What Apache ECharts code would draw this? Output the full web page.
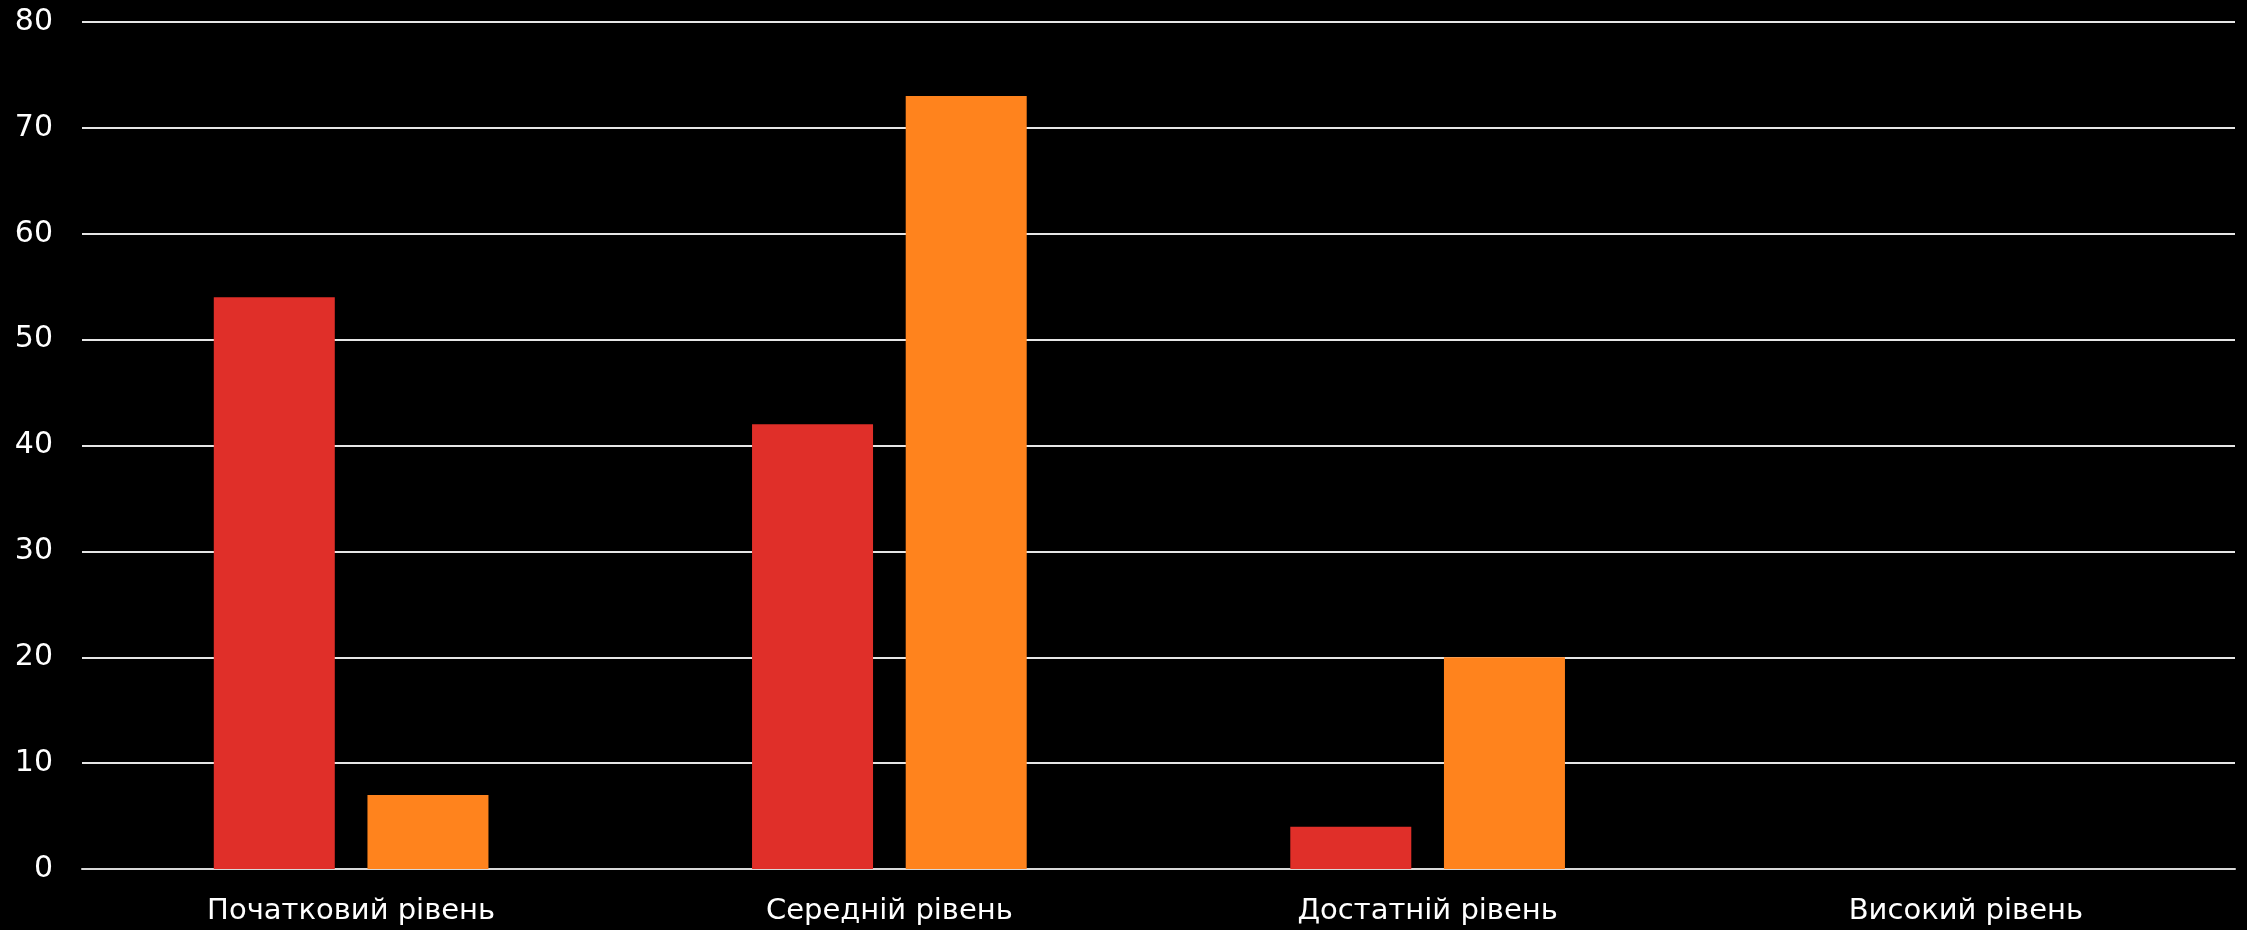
<!DOCTYPE html>
<html><head><meta charset="utf-8">
<script src="https://cdn.jsdelivr.net/npm/echarts@6/dist/echarts.min.js"></script>
<style>html,body{margin:0;padding:0;background:#000;}#c{width:2247px;height:930px;}</style>
</head><body><div id="c"></div>
<script>
var categories = ['Початковий рівень', 'Середній рівень', 'Достатній рівень', 'Високий рівень'];
var seriesA = [54, 42, 4, 0];
var seriesB = [7, 73, 20, 0];
var yTicks = [0, 10, 20, 30, 40, 50, 60, 70, 80];

var chart = echarts.init(document.getElementById('c'), null, {renderer: 'canvas'});
chart.setOption({
  backgroundColor: '#000000',
  animation: false,
  grid: {left: 82, right: 12, top: 22, bottom: 61, containLabel: false},
  xAxis: {
    type: 'category',
    data: categories,
    axisLine: {show: true, lineStyle: {color: '#d9d9d9', width: 2}},
    axisTick: {show: false},
    axisLabel: {color: '#ffffff', fontFamily: 'DejaVu Sans', fontSize: 29, margin: 28}
  },
  yAxis: {
    type: 'value',
    min: yTicks[0], max: yTicks[yTicks.length - 1], interval: 10,
    axisLine: {show: false},
    axisTick: {show: false},
    splitLine: {show: true, lineStyle: {color: '#e6e6e6', width: 2}},
    axisLabel: {color: '#ffffff', fontFamily: 'DejaVu Sans', fontSize: 30, margin: 29}
  },
  series: [
    {type: 'bar', data: seriesA, barWidth: 121, barGap: '27%',
     itemStyle: {color: '#e02f29'}},
    {type: 'bar', data: seriesB, barWidth: 121,
     itemStyle: {color: '#ff831d'}}
  ]
});
</script></body></html>
